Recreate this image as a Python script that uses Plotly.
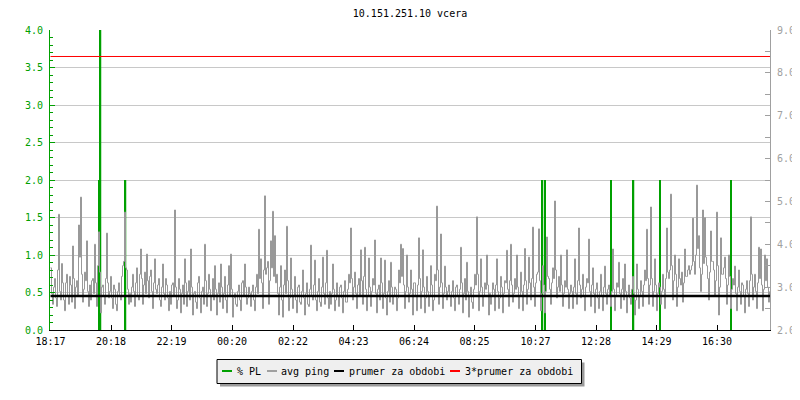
import plotly.graph_objects as go

# ---------------- data ----------------
title_text = "10.151.251.10 vcera"

# time axis labels (clock times), first label = start of period
tick_labels = ["18:17", "20:18", "22:19", "00:20", "02:22", "04:23",
               "06:24", "08:25", "10:27", "12:28", "14:29", "16:30"]
period_minutes = 1440
sample_step = 2  # minutes between ping samples

# avg ping [ms] (right axis), samples at minutes 0, 4, 8, ...
ping_even = [
    3.45, 2.60, 3.20, 2.55, 4.70, 2.70, 3.10, 2.45, 3.30, 2.60, 3.05, 3.96, 2.50, 3.15, 4.45, 5.10, 2.65, 3.35, 4.08, 2.55,
    2.70, 3.20, 4.00, 2.55, 4.29, 2.40, 3.05, 2.60, 4.26, 2.75, 3.25, 2.50, 2.95, 2.45, 3.10, 2.70, 3.50, 4.75, 3.40, 2.60,
    2.65, 3.30, 2.55, 3.45, 2.70, 3.89, 2.60, 3.35, 3.77, 2.75, 3.40, 2.50, 3.66, 2.85, 3.20, 2.55, 3.54, 2.70, 3.05, 2.45,
    2.60, 3.10, 4.80, 2.50, 3.20, 2.40, 3.05, 3.66, 2.55, 3.15, 3.89, 2.35, 2.90, 2.50, 3.25, 2.40, 3.00, 4.00, 2.55, 3.30,
    2.45, 3.20, 3.50, 2.35, 3.10, 3.54, 2.50, 3.25, 2.40, 3.50, 3.77, 2.30, 2.85, 2.55, 3.05, 2.45, 3.15, 3.54, 2.60, 3.00,
    2.55, 3.05, 2.45, 3.30, 4.35, 3.66, 2.50, 5.13, 3.45, 2.60, 4.08, 4.77, 4.20, 3.30, 2.35, 3.50, 2.30, 3.40, 4.42, 2.45,
    3.68, 2.50, 3.25, 2.40, 3.05, 2.60, 3.40, 2.35, 3.10, 2.55, 3.98, 2.70, 3.63, 2.45, 3.20, 2.55, 3.70, 2.60, 3.86, 2.50,
    2.60, 3.54, 2.45, 3.10, 2.55, 3.05, 2.40, 3.15, 2.65, 3.30, 4.38, 2.70, 3.35, 2.50, 3.20, 3.87, 2.60, 3.93, 2.45, 3.68,
    2.55, 3.20, 4.10, 2.40, 3.05, 3.68, 2.50, 3.63, 2.35, 3.15, 3.58, 2.60, 3.00, 2.45, 3.40, 4.00, 3.90, 2.50, 3.75, 2.65,
    3.40, 2.35, 3.10, 2.45, 4.15, 2.50, 3.87, 2.40, 3.25, 2.55, 3.50, 2.45, 3.30, 4.89, 2.60, 4.24, 2.50, 3.49, 2.70, 3.05,
    2.55, 3.15, 2.45, 3.05, 2.60, 3.93, 2.40, 3.20, 3.58, 2.30, 3.00, 2.50, 3.30, 4.64, 2.45, 3.66, 2.55, 3.10, 3.75, 2.35,
    2.60, 3.10, 2.45, 3.66, 2.50, 3.25, 2.40, 3.15, 3.86, 2.55, 4.00, 2.65, 3.20, 3.75, 2.50, 3.35, 2.45, 3.90, 2.60, 3.70,
    2.70, 4.40, 2.55, 3.30, 4.36, 2.45, 3.50, 2.40, 4.17, 3.20, 2.60, 3.45, 5.01, 2.75, 3.25, 3.75, 2.55, 3.15, 3.87, 2.50,
    3.05, 2.50, 3.66, 2.60, 4.38, 2.75, 3.30, 2.45, 3.20, 4.12, 2.55, 3.45, 2.40, 3.10, 2.50, 3.30, 2.45, 3.49, 2.60, 3.05,
    2.55, 3.89, 2.45, 3.10, 3.58, 2.50, 3.20, 3.54, 2.40, 3.05, 2.60, 3.25, 2.35, 3.54, 2.50, 3.15, 2.55, 3.40, 4.35, 2.60,
    4.87, 2.55, 3.66, 2.45, 3.10, 2.60, 3.30, 2.50, 4.38, 3.20, 5.17, 2.70, 3.75, 2.55, 3.66, 3.05, 2.65, 3.89, 3.25, 3.50,
    3.40, 4.61, 3.30, 5.38, 4.20, 2.90, 4.80, 4.62, 3.50, 2.70, 4.31, 3.60, 2.80, 4.75, 2.35, 4.15, 3.30, 3.70, 2.60, 3.75,
    2.50, 3.20, 3.49, 2.45, 3.40, 2.60, 3.05, 2.40, 3.15, 2.55, 4.64, 2.70, 3.30, 2.50, 3.93, 3.89, 2.45, 3.75, 3.66, 2.65,
]
# avg ping [ms] (right axis), samples at minutes 2, 6, 10, ...
ping_odd = [
    2.85, 3.00, 2.75, 3.40, 2.90, 3.55, 2.70, 3.10, 2.80, 3.25, 2.65, 3.20, 3.00, 2.80, 3.70, 3.30, 2.95, 3.15, 2.90, 3.05,
    3.15, 2.85, 3.10, 3.50, 3.35, 3.00, 2.80, 3.20, 3.10, 2.90, 2.75, 3.05, 2.60, 2.90, 2.80, 3.25, 3.60, 3.45, 2.95, 2.85,
    3.00, 2.90, 3.10, 2.80, 3.30, 3.20, 3.05, 2.85, 3.15, 3.25, 2.90, 3.10, 2.95, 3.05, 2.70, 3.00, 2.85, 3.20, 2.75, 2.90,
    3.05, 2.80, 3.00, 2.70, 2.95, 2.85, 2.60, 3.10, 2.90, 2.70, 3.00, 2.85, 2.65, 3.10, 2.75, 2.90, 2.60, 3.15, 2.85, 2.95,
    2.80, 2.70, 2.95, 2.85, 2.65, 3.00, 2.85, 2.70, 3.05, 2.80, 2.95, 2.75, 2.60, 2.90, 2.70, 3.10, 2.80, 3.00, 2.75, 2.85,
    2.90, 2.70, 3.00, 2.85, 3.20, 3.10, 3.40, 3.30, 3.60, 3.15, 3.45, 3.25, 3.10, 2.85, 3.00, 2.70, 3.05, 2.85, 3.15, 2.75,
    2.95, 2.80, 2.70, 3.00, 2.65, 2.90, 2.75, 2.85, 2.60, 2.95, 2.80, 3.05, 2.70, 2.90, 2.65, 3.00, 2.85, 3.10, 2.75, 2.90,
    2.85, 2.95, 2.70, 2.80, 3.00, 2.75, 2.90, 2.65, 2.95, 3.10, 3.20, 3.00, 2.85, 3.05, 2.80, 3.15, 3.25, 2.95, 2.80, 3.00,
    2.90, 3.05, 2.85, 2.95, 2.70, 3.10, 2.85, 2.75, 2.90, 2.65, 3.00, 2.80, 2.95, 2.75, 3.10, 3.25, 3.05, 2.90, 3.00, 2.85,
    2.95, 3.10, 2.80, 3.05, 3.20, 2.90, 3.00, 2.75, 2.90, 2.80, 3.05, 2.70, 3.15, 3.40, 3.00, 3.10, 2.85, 3.00, 2.90, 2.80,
    2.90, 2.75, 3.00, 2.80, 2.95, 3.10, 2.85, 2.70, 2.90, 2.80, 2.65, 2.95, 3.05, 3.30, 2.90, 3.00, 2.80, 2.95, 3.05, 2.85,
    2.80, 2.95, 3.05, 2.90, 2.75, 3.00, 2.85, 3.10, 2.95, 3.15, 3.05, 2.85, 2.95, 3.00, 2.80, 2.90, 3.05, 3.15, 2.95, 3.10,
    3.20, 3.00, 3.10, 3.35, 3.15, 2.85, 3.05, 2.90, 3.25, 2.95, 3.10, 3.20, 3.40, 3.00, 2.90, 3.05, 2.85, 3.00, 2.95, 2.85,
    2.90, 3.00, 2.85, 3.15, 3.05, 2.95, 2.80, 3.00, 3.10, 2.90, 3.05, 2.85, 2.95, 2.75, 2.90, 2.80, 3.00, 2.85, 2.95, 2.80,
    2.90, 2.95, 2.80, 3.00, 2.85, 2.95, 2.70, 2.90, 2.80, 2.75, 2.95, 2.85, 2.70, 2.95, 2.80, 2.90, 3.05, 3.15, 3.20, 3.05,
    3.20, 2.90, 3.05, 2.85, 3.00, 2.90, 2.95, 3.20, 3.35, 3.40, 3.50, 3.15, 3.30, 3.00, 3.20, 3.35, 3.10, 3.25, 3.40, 3.30,
    3.50, 3.60, 3.75, 3.90, 3.45, 3.30, 3.55, 3.70, 3.20, 3.35, 3.60, 3.40, 3.15, 3.50, 3.00, 3.30, 3.45, 3.20, 3.05, 3.25,
    2.95, 3.05, 2.85, 3.00, 2.90, 3.10, 2.80, 2.95, 2.85, 3.15, 3.30, 3.00, 2.90, 3.10, 3.20, 3.05, 2.95, 3.15, 3.00, 2.90,
]

# packet loss events [% PL] (left axis): minute offset from start, value
pl_minutes = [98, 100, 150, 984, 989, 1121, 1166, 1219, 1361]
pl_values = [2.0, 4.0, 2.0, 2.0, 2.0, 2.0, 2.0, 2.0, 2.0]

period_avg = 2.794         # "prumer za obdobi" [ms]
avg_factor = 3             # "3*prumer za obdobi"

# ---------------- derived ----------------
def minutes_from_start(label, start):
    h, m = map(int, label.split(":"))
    sh, sm = map(int, start.split(":"))
    return ((h * 60 + m) - (sh * 60 + sm)) % 1440


tick_vals = [minutes_from_start(t, tick_labels[0]) for t in tick_labels]
avg_ping = [v for pair in zip(ping_even, ping_odd) for v in pair]
ping_minutes = [i * sample_step for i in range(len(avg_ping))]
line_x = [0, period_minutes]

GREEN = "#00a000"
GRAY = "#a0a0a0"
PING = "#999999"
GRID = "#c8c8c8"
FONT = "DejaVu Sans Mono"

# page has an 8px body margin; plot area on page: x 50..770, y 30..330
BODY = 8
W, H = 800 - BODY, 400 - 2 * BODY
PL0, PT0, PW, PH = 50, 30, 720, 300
L = PL0 - BODY
T = PT0 - BODY
R = W - L - PW
B = H - T - PH
X_SHIFT = 1  # half-pixel shift (in minutes) so 1px strokes land on pixel centres


def px(xp):
    return (xp - PL0) / PW


def py(yp):
    return (PT0 + PH - yp) / PH


fig = go.Figure()

fig.add_trace(go.Bar(x=pl_minutes, y=pl_values, width=3, marker=dict(color=GREEN, line=dict(width=0)),
                     name="% PL", yaxis="y", showlegend=False))
fig.add_trace(go.Scatter(x=ping_minutes, y=avg_ping, mode="lines",
                         line=dict(color=PING, width=1, shape="hv"),
                         name="avg ping", yaxis="y2", showlegend=False))
fig.add_trace(go.Scatter(x=line_x, y=[period_avg, period_avg], mode="lines",
                         line=dict(color="black", width=2.5), name="prumer za obdobi",
                         yaxis="y2", showlegend=False))
fig.add_trace(go.Scatter(x=line_x, y=[avg_factor * period_avg] * 2, mode="lines",
                         line=dict(color="red", width=1), name="3*prumer za obdobi",
                         yaxis="y2", showlegend=False))

# custom legend (RRD style box with shadow)
shapes = [
    dict(type="rect", xref="paper", yref="paper", x0=px(220), x1=px(584.5), y0=py(362.5), y1=py(386.5),
         fillcolor="#9a9a9a", line=dict(width=0), layer="above"),
    dict(type="rect", xref="paper", yref="paper", x0=px(217), x1=px(581.5), y0=py(359.5), y1=py(383.5),
         fillcolor="#efefef", line=dict(color="black", width=1), layer="above"),
]
legend_items = [
    ("% PL", GREEN, 222, 236),
    ("avg ping", GRAY, 267, 280),
    ("prumer za obdobi", "black", 334, 347.5),
    ("3*prumer za obdobi", "red", 450, 464.5),
]
annotations = []
for text, col, x0, tx in legend_items:
    shapes.append(dict(type="line", xref="paper", yref="paper", x0=px(x0), x1=px(x0 + 10),
                       y0=py(371), y1=py(371), line=dict(color=col, width=2), layer="above"))
    annotations.append(dict(text=text, xref="paper", yref="paper", x=px(tx), y=py(371),
                            xanchor="left", yanchor="middle", showarrow=False, borderpad=0,
                            font=dict(family=FONT, size=10, color="black")))

fig.update_layout(
    width=W, height=H,
    margin=dict(l=L, r=R, t=T, b=B, pad=0, autoexpand=False),
    paper_bgcolor="white", plot_bgcolor="white",
    font=dict(family=FONT, size=10, color="black"),
    title=dict(text=title_text, x=0.5, xref="paper", y=1 - (13.5 - BODY) / H, yref="container",
               xanchor="center", yanchor="middle", font=dict(family=FONT, size=10, color="black")),
    showlegend=False,
    barmode="overlay",
    xaxis=dict(range=[-X_SHIFT, period_minutes - X_SHIFT], tickvals=tick_vals, ticktext=tick_labels,
               ticks="inside", ticklen=5, tickcolor="black", showline=True, linecolor="black",
               linewidth=1, showgrid=False, zeroline=False, tickfont=dict(color="black"),
               ticklabelstandoff=2, automargin=False),
    yaxis=dict(range=[0, 4], tick0=0, dtick=0.5, tickformat=".1f", ticks="inside", ticklen=5,
               tickcolor=GREEN, showline=True, linecolor=GREEN, linewidth=1,
               showgrid=True, gridcolor=GRID, gridwidth=1, zeroline=False,
               tickfont=dict(color=GREEN), ticklabelstandoff=4, automargin=False,
               minor=dict(dtick=0.1, ticks="inside", ticklen=3, tickcolor=GREEN, showgrid=False)),
    yaxis2=dict(range=[2, 9], overlaying="y", side="right", anchor="x",
                tickvals=[2, 3, 4, 5, 6, 7, 8, 9], tickformat=".1f", ticks="inside", ticklen=5,
                tickcolor=GRAY, showline=True, linecolor=GRAY, linewidth=1, showgrid=False,
                zeroline=False, tickfont=dict(color=GRAY), ticklabelstandoff=4, automargin=False,
                minor=dict(dtick=0.5, ticks="inside", ticklen=5, tickcolor=GRAY, showgrid=False)),
    shapes=shapes,
    annotations=annotations,
)

fig.write_html("out.html")
